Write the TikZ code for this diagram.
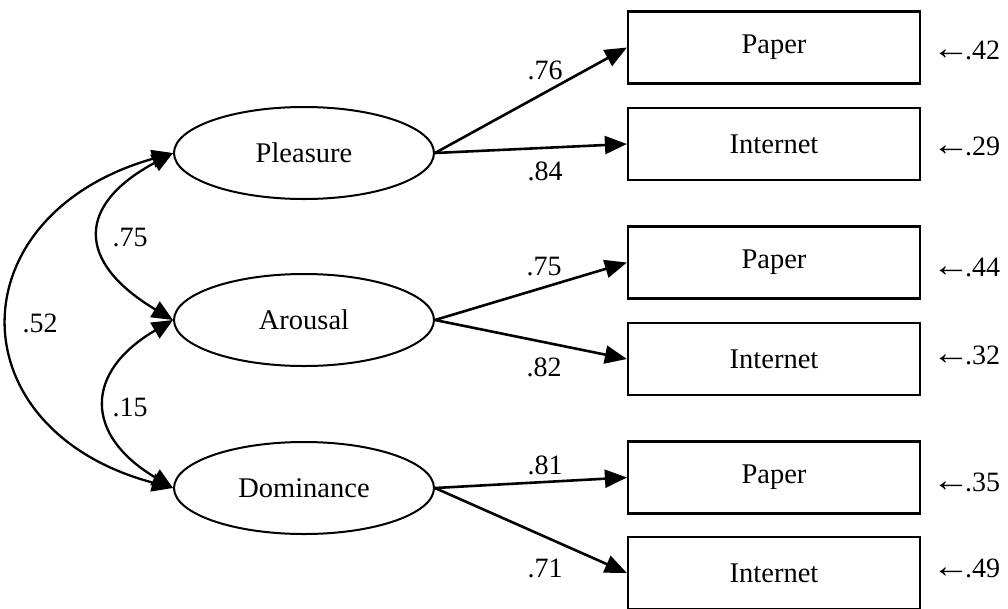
\documentclass[tikz,border=0pt]{standalone}
\usepackage{fontspec}
\usepackage{graphicx}
\setmainfont{Liberation Serif}
\usetikzlibrary{arrows.meta,shapes.geometric}
\newcommand{\errarrow}{\scalebox{1.35}[1.2]{←}\kern-5pt}
\begin{document}
\begin{tikzpicture}[x=1pt,y=-1pt,
  latent/.style={draw,ellipse,line width=2pt,minimum width=260pt,minimum height=92pt,inner sep=0pt,font=\fontsize{28.5}{31}\selectfont},
  obs/.style={draw,rectangle,line width=2.2pt,minimum width=292pt,minimum height=72pt,inner sep=0pt,font=\fontsize{28.5}{31}\selectfont},
  loading/.style={line width=2.6pt,-{Triangle[length=22pt,width=18pt]}},
  cov/.style={line width=2.3pt,{Triangle[length=21pt,width=18pt]}-{Triangle[length=21pt,width=18pt]}},
  lab/.style={font=\fontsize{28}{31}\selectfont,inner sep=0pt},
  err/.style={font=\fontsize{28}{31}\selectfont,inner sep=0pt,anchor=west}]
\useasboundingbox (0,0) rectangle (1008,608);
% latent variables
\node[latent] (P) at (304,153) {Pleasure};
\node[latent] (A) at (304,320) {Arousal};
\node[latent] (D) at (304,488) {Dominance};
% observed variables
\node[obs] (p1) at (774,47.5) {Paper};
\node[obs] (i1) at (774,144) {Internet};
\node[obs] (p2) at (774,262.5) {Paper};
\node[obs] (i2) at (774,359) {Internet};
\node[obs] (p3) at (774,477.5) {Paper};
\node[obs] (i3) at (774,573) {Internet};
% loadings
\draw[loading] (P.east) -- (p1.west);
\draw[loading] (P.east) -- (i1.west);
\draw[loading] (A.east) -- (p2.west);
\draw[loading] (A.east) -- (i2.west);
\draw[loading] (D.east) -- (p3.west);
\draw[loading] (D.east) -- (i3.west);
\node[lab] (l1) at (545,70) {.76};
\node[lab] (l2) at (545,171) {.84};
\node[lab] (l3) at (544,267) {.75};
\node[lab] (l4) at (544,367) {.82};
\node[lab] (l5) at (545,465) {.81};
\node[lab] (l6) at (545,568) {.71};
% covariances
\draw[cov] (P.west) .. controls (76,205) and (76,262) .. (A.west);
\draw[cov] (A.west) .. controls (84,372) and (84,435) .. (D.west);
\draw[cov] (P.west) .. controls (-45,215) and (-45,430) .. (D.west);
\node[lab] (c1) at (130,238) {.75};
\node[lab] (c2) at (130,407) {.15};
\node[lab] (c3) at (40,323) {.52};
% errors
\node[err] (e1) at (932,50) {\errarrow.42};
\node[err] (e2) at (932,146) {\errarrow.29};
\node[err] (e3) at (932,267) {\errarrow.44};
\node[err] (e4) at (932,355) {\errarrow.32};
\node[err] (e5) at (932,482) {\errarrow.35};
\node[err] (e6) at (932,568) {\errarrow.49};
\end{tikzpicture}
\end{document}
